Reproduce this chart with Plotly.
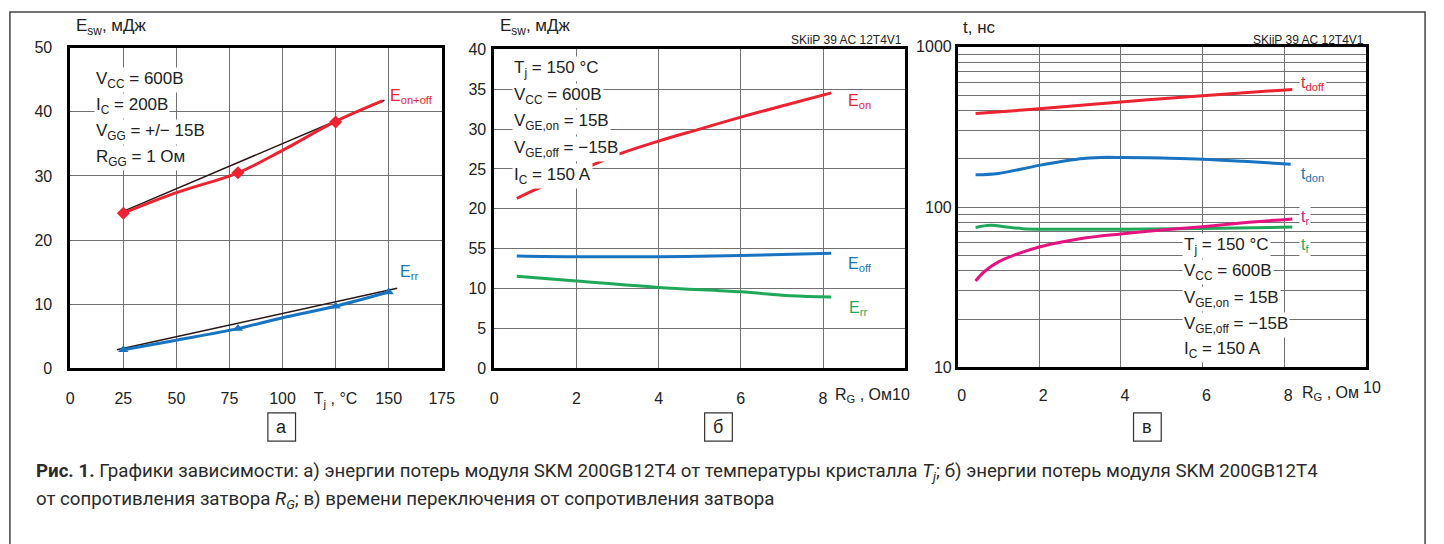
import plotly.graph_objects as go

W, H = 1444, 544


def px(x):
    return x / W


def py(y):
    return 1 - y / H


# ---------------- data ----------------
# panel а : E vs Tj
a_eonoff_x = [25, 50, 79, 100, 125, 147]
a_eonoff_y = [24.2, 27.4, 30.5, 34.0, 38.5, 41.7]
a_eonoff_mx = [25, 79, 125]
a_eonoff_my = [24.2, 30.5, 38.4]
a_eonoff_fit_x = [23, 148]
a_eonoff_fit_y = [24.2, 41.8]
a_err_x = [25, 50, 79, 100, 125, 150]
a_err_y = [2.9, 4.4, 6.2, 7.9, 9.7, 11.9]
a_err_mx = [25, 79, 125, 150]
a_err_my = [2.9, 6.2, 9.7, 11.9]
a_err_fit_x = [22, 154]
a_err_fit_y = [2.9, 12.5]
a_xticks = [0, 25, 50, 75, 100, 125, 150, 175]
a_xticktext = ["0", "25", "50", "75", "100", "T<sub>j</sub> , °C", "150", "175"]
a_yticks = [0, 10, 20, 30, 40, 50]

# panel б : E vs RG
b_eon_x = [0.55, 1, 2, 3, 4, 5, 6, 7, 8.2]
b_eon_y = [21.3, 22.4, 24.6, 26.8, 28.5, 30.0, 31.5, 32.9, 34.55]
b_eoff_x = [0.55, 2, 4, 6, 8.2]
b_eoff_y = [14.1, 14.0, 14.0, 14.15, 14.45]
b_err_x = [0.55, 2, 4, 6, 7.2, 8.2]
b_err_y = [11.55, 10.95, 10.15, 9.6, 9.1, 8.95]
b_xticks = [0, 2, 4, 6, 8]
b_yticks = [0, 5, 10, 15, 20, 25, 30, 35, 40]
b_yticktext = ["0", "5", "10", "55", "20", "25", "30", "35", "40"]

# panel в : t vs RG (log)
c_tdoff_x = [0.44, 2, 4, 6, 8.2]
c_tdoff_y = [383, 410, 453, 494, 542]
c_tdon_x = [0.44, 1, 2, 3, 3.5, 4, 5, 6, 7, 8.16]
c_tdon_y = [159, 162, 182, 200, 204, 204, 202, 199, 193, 185]
c_tr_x = [0.44, 0.65, 1, 1.5, 2, 3, 4, 5, 6, 7, 8.2]
c_tr_y = [34.6, 39.5, 45.5, 51.4, 56.4, 63.4, 68, 72, 75.5, 79.8, 84.4]
c_tf_x = [0.44, 0.8, 1.2, 1.6, 2, 4, 6, 8.2]
c_tf_y = [74.5, 77, 75, 73.3, 72.8, 72.8, 73.6, 75]
c_xticks = [0, 2, 4, 6, 8]
c_yticks = [10, 20, 30, 40, 50, 60, 70, 80, 90,
            100, 200, 300, 400, 500, 600, 700, 800, 900, 1000]
c_yticktext = ["10"] + [""] * 8 + ["100"] + [""] * 8 + ["1000"]

RED = "#ec2330"
BLUE = "#1874c1"
GREEN = "#1fa85a"
MAG = "#e5137f"
BLACK_FIT = "#2a1616"
FONT = "Liberation Sans, Arial, sans-serif"

fig = go.Figure()

# panel а traces
fig.add_trace(go.Scatter(x=a_eonoff_fit_x, y=a_eonoff_fit_y, mode="lines",
                         line=dict(color=BLACK_FIT, width=1.5), xaxis="x", yaxis="y"))
fig.add_trace(go.Scatter(x=a_err_fit_x, y=a_err_fit_y, mode="lines",
                         line=dict(color=BLACK_FIT, width=1.5), xaxis="x", yaxis="y"))
fig.add_trace(go.Scatter(x=a_eonoff_x, y=a_eonoff_y, mode="lines", line_shape="spline",
                         line=dict(color=RED, width=3), xaxis="x", yaxis="y"))
fig.add_trace(go.Scatter(x=a_eonoff_mx, y=a_eonoff_my, mode="markers",
                         marker=dict(symbol="diamond", size=10, color=RED), xaxis="x", yaxis="y"))
fig.add_trace(go.Scatter(x=a_err_x, y=a_err_y, mode="lines", line_shape="spline",
                         line=dict(color=BLUE, width=3), xaxis="x", yaxis="y"))
fig.add_trace(go.Scatter(x=a_err_mx, y=a_err_my, mode="markers",
                         marker=dict(symbol="triangle-up", size=9, color=BLUE), xaxis="x", yaxis="y"))

# panel б traces
fig.add_trace(go.Scatter(x=b_eon_x, y=b_eon_y, mode="lines", line_shape="spline",
                         line=dict(color=RED, width=3), xaxis="x2", yaxis="y2"))
fig.add_trace(go.Scatter(x=b_eoff_x, y=b_eoff_y, mode="lines", line_shape="spline",
                         line=dict(color=BLUE, width=3), xaxis="x2", yaxis="y2"))
fig.add_trace(go.Scatter(x=b_err_x, y=b_err_y, mode="lines", line_shape="spline",
                         line=dict(color=GREEN, width=3), xaxis="x2", yaxis="y2"))

# panel в traces
fig.add_trace(go.Scatter(x=c_tdoff_x, y=c_tdoff_y, mode="lines", line_shape="spline",
                         line=dict(color=RED, width=3), xaxis="x3", yaxis="y3"))
fig.add_trace(go.Scatter(x=c_tdon_x, y=c_tdon_y, mode="lines", line_shape="spline",
                         line=dict(color=BLUE, width=3), xaxis="x3", yaxis="y3"))
fig.add_trace(go.Scatter(x=c_tf_x, y=c_tf_y, mode="lines", line_shape="spline",
                         line=dict(color=GREEN, width=3), xaxis="x3", yaxis="y3"))
fig.add_trace(go.Scatter(x=c_tr_x, y=c_tr_y, mode="lines", line_shape="spline",
                         line=dict(color=MAG, width=3), xaxis="x3", yaxis="y3"))

axis_common = dict(showline=True, mirror=True, linecolor="black", linewidth=2.5,
                   showgrid=True, gridcolor="#707070", gridwidth=1.3, zeroline=False,
                   ticks="", tickfont=dict(family=FONT, size=16, color="#222"),
                   layer="below traces")

fig.update_layout(
    width=W, height=H, margin=dict(l=0, r=0, t=0, b=0),
    paper_bgcolor="white", plot_bgcolor="white", showlegend=False,
    font=dict(family=FONT, color="#222"),
    xaxis=dict(domain=[px(67), px(443)], range=[0, 175], tickmode="array",
               tickvals=a_xticks, ticktext=a_xticktext, ticklabelstandoff=14,
               anchor="y", **axis_common),
    yaxis=dict(domain=[py(372), py(41)], range=[0, 50], tickmode="array",
               tickvals=a_yticks, ticklabelstandoff=12, anchor="x", **axis_common),
    xaxis2=dict(domain=[px(496), px(912)], range=[0, 10], tickmode="array",
                tickvals=b_xticks, ticklabelstandoff=14, anchor="y2", **axis_common),
    yaxis2=dict(domain=[py(372), py(42.7)], range=[0, 40], tickmode="array",
                tickvals=b_yticks, ticktext=b_yticktext, ticklabelstandoff=2,
                anchor="x2", **axis_common),
    xaxis3=dict(domain=[px(965), px(1378)], range=[0, 10], tickmode="array",
                tickvals=c_xticks, ticklabelstandoff=12, ticklabelshift=4,
                anchor="y3", **axis_common),
    yaxis3=dict(domain=[py(371), py(40)], type="log", range=[1, 3], tickmode="array",
                tickvals=c_yticks, ticktext=c_yticktext, ticklabelstandoff=0,
                anchor="x3", **axis_common),
)

ann = []


def text(x, y, s, size=17, color="#222", xanchor="left", bg=None, family=FONT):
    d = dict(x=px(x), y=py(y), xref="paper", yref="paper", text=s, showarrow=False,
             xanchor=xanchor, yanchor="middle",
             font=dict(family=family, size=size, color=color))
    if bg:
        d.update(bgcolor=bg, borderpad=1)
    ann.append(d)


# axis titles
text(71, 20, "E<sub>sw</sub>, мДж", size=17)
text(500, 20, "E<sub>sw</sub>, мДж", size=17)
text(968, 20, "t, нс", size=17)

# model tags
text(911, 33, "SKiiP 39 AC 12T4V1", size=12, xanchor="right")
text(1378, 33, "SKiiP 39 AC 12T4V1", size=12, xanchor="right")

# panel а conditions
for yy, s in [(74, "V<sub>CC</sub> = 600В"), (101, "I<sub>C</sub> = 200В"),
              (128, "V<sub>GG</sub> = +/− 15В"), (155, "R<sub>GG</sub> = 1 Ом")]:
    text(91, yy, s, bg="white")
# panel б conditions
for yy, s in [(63, "T<sub>j</sub> = 150 °C"), (91, "V<sub>CC</sub> = 600В"),
              (118, "V<sub>GE,on</sub> = 15В"), (146, "V<sub>GE,off</sub> = −15В"),
              (173, "I<sub>C</sub> = 150 A")]:
    text(514, yy, s, bg="white")
# panel в conditions
for yy, s in [(246, "T<sub>j</sub> = 150 °C"), (273, "V<sub>CC</sub> = 600В"),
              (300, "V<sub>GE,on</sub> = 15В"), (327, "V<sub>GE,off</sub> = −15В"),
              (353, "I<sub>C</sub> = 150 A")]:
    text(1192, yy, s, bg="white")

# curve labels
text(389, 91, "E<sub>on+off</sub>", size=16, color=RED)
text(399, 273, "E<sub>rr</sub>", size=16, color=BLUE)
text(852, 97, "E<sub>on</sub>", size=16, color=RED)
text(852, 265, "E<sub>off</sub>", size=16, color=BLUE)
text(853, 310, "E<sub>rr</sub>", size=16, color=GREEN)
text(1310, 78, "t<sub>doff</sub>", size=16, color=RED, bg="white")
text(1310, 172, "t<sub>don</sub>", size=16, color=BLUE, bg="white")
text(1310, 216, "t<sub>r</sub>", size=16, color=MAG, bg="white")
text(1310, 245, "t<sub>f</sub>", size=16, color=GREEN, bg="white")

# x-axis names
text(839, 400, "R<sub>G</sub> , Ом10", size=16)
text(1311, 398, "R<sub>G</sub> , Ом", size=16)
text(1384, 392, "10", size=16, xanchor="center")

# panel letters
shapes = []
for cx, letter in [(281, "а"), (723, "б"), (1157, "в")]:
    shapes.append(dict(type="rect", xref="paper", yref="paper",
                       x0=px(cx - 14), x1=px(cx + 14), y0=py(447), y1=py(418),
                       line=dict(color="#333", width=1.2)))
    text(cx, 432, letter, size=18, xanchor="center")

# outer frame
shapes.append(dict(type="rect", xref="paper", yref="paper",
                   x0=px(6), x1=px(1438), y0=py(560), y1=py(4),
                   line=dict(color="#444", width=1.5)))

CAP = "Roboto"
text(30, 479, "<b>Рис. 1.</b> Графики зависимости: а) энергии потерь модуля SKM 200GB12T4 "
     "от температуры кристалла <i>T<sub>j</sub></i>; б) энергии потерь модуля SKM 200GB12T4",
     size=18.7, family=CAP, color="#2a2a2a")
text(30, 508, "от сопротивления затвора <i>R<sub>G</sub></i>; в) времени переключения "
     "от сопротивления затвора", size=18.7, family=CAP, color="#2a2a2a")

fig.update_layout(annotations=ann, shapes=shapes)
fig.write_html("out.html")
